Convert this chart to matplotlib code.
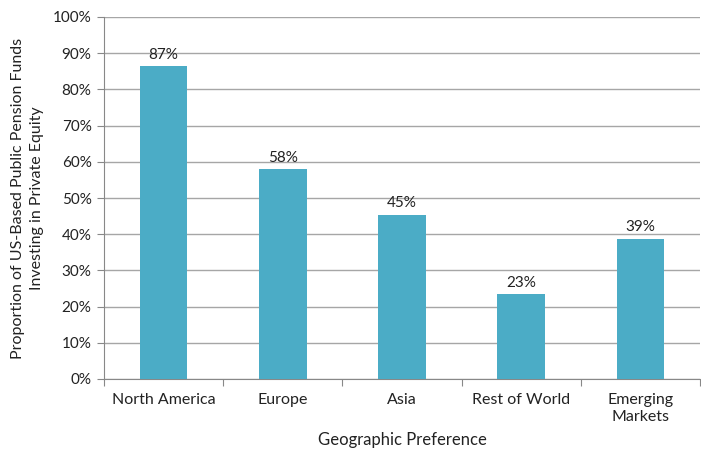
import matplotlib
matplotlib.use("Agg")
import matplotlib.pyplot as plt
from matplotlib.ticker import FixedLocator, NullFormatter

categories = ["North America", "Europe", "Asia", "Rest of World", "Emerging\nMarkets"]
values = [86.5, 58.0, 45.4, 23.4, 38.8]
labels = ["87%", "58%", "45%", "23%", "39%"]
yticks = [0, 10, 20, 30, 40, 50, 60, 70, 80, 90, 100]

plt.rcParams['font.family'] = ['Lato', 'DejaVu Sans']

fig = plt.figure(figsize=(7.01, 4.5), dpi=100)
ax = fig.add_axes([104/701, 1 - 379/450, (700-104)/701, (379-17)/450])

x = list(range(len(categories)))
bars = ax.bar(x, values, width=0.4, color="#4BACC6", zorder=3)
for xi, v, lab in zip(x, values, labels):
    ax.text(xi, v + 1.2, lab, ha="center", va="bottom", fontsize=11, color="#222222", zorder=4)

ax.set_xlim(-0.5, len(categories) - 0.5)
ax.set_ylim(0, 100)
ax.set_yticks(yticks)
ax.set_yticklabels([f"{t}%" for t in yticks], fontsize=11, color="#222222")
ax.set_xticks(x)
ax.set_xticklabels(categories, fontsize=11.5, color="#222222", linespacing=1.25)
ax.tick_params(axis="x", length=0, pad=10)
ax.xaxis.set_minor_locator(FixedLocator([i + 0.5 for i in range(-1, len(categories))]))
ax.xaxis.set_minor_formatter(NullFormatter())
ax.tick_params(axis="x", which="minor", length=5, color="#888888", width=0.8)
ax.tick_params(axis="y", length=5, color="#888888", width=0.8, pad=4)

ax.grid(axis="y", color="#A6A6A6", linewidth=1.0, zorder=0)
for s in ["top", "right"]:
    ax.spines[s].set_visible(False)
for s in ["left", "bottom"]:
    ax.spines[s].set_color("#888888")
    ax.spines[s].set_linewidth(0.8)

ax.set_xlabel("Geographic Preference", fontsize=12, color="#222222", labelpad=6)
ax.set_ylabel("Proportion of US-Based Public Pension Funds\nInvesting in Private Equity", fontsize=11.5,
              color="#222222", labelpad=6, linespacing=1.45)

fig.savefig("out.png", dpi=100)
